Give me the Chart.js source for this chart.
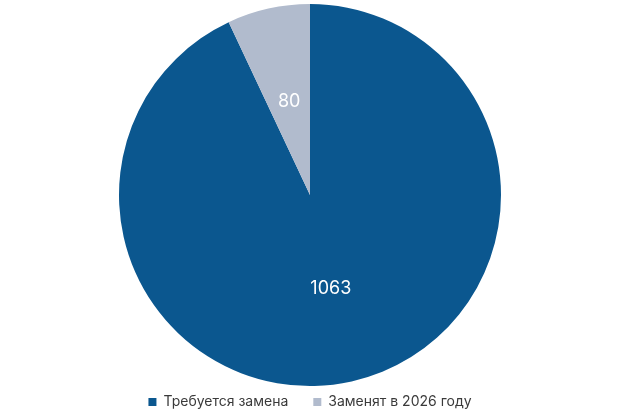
<!DOCTYPE html>
<html>
<head>
<meta charset="utf-8">
<script src="https://cdn.jsdelivr.net/npm/chart.js@4"></script>
<style>
  html, body { margin: 0; padding: 0; background: #fff; }
  #wrap { width: 620px; height: 413px; }
</style>
</head>
<body>
<div id="wrap"><canvas id="pie"></canvas></div>
<script>
const labels = ['Требуется замена', 'Заменят в 2026 году'];
const values = [1063, 80];
const colors = ['#0b578f', '#b1bbcd'];

// draw the values on the slices (no datalabels plugin here)
const sliceLabels = {
    id: 'sliceLabels',
    afterDatasetsDraw(chart) {
        const ctx = chart.ctx;
        const meta = chart.getDatasetMeta(0);
        ctx.save();
        ctx.fillStyle = '#ffffff';
        ctx.font = '18px Inter, "Open Sans", sans-serif';
        ctx.textAlign = 'center';
        ctx.textBaseline = 'middle';
        meta.data.forEach((arc, i) => {
            const p = arc.getCenterPoint();
            ctx.fillText(String(values[i]), p.x, p.y);
        });
        ctx.restore();
    }
};

// keep the wide gap between legend items but make the legend box short,
// so the pie gets almost all the height
const tightLegend = {
    id: 'tightLegend',
    afterInit(chart) {
        const legend = chart.legend;
        const origFit = legend.fit;
        legend.fit = function () {
            origFit.call(this);
            this.height = 27;
        };
        const origDraw = legend.draw;
        legend.draw = function () {
            const top = this.top;
            this.top = top - 16; // legend clips to its box, so move the box instead
            origDraw.call(this);
            this.top = top;
        };
    }
};

new Chart(document.getElementById('pie').getContext('2d'), {
    type: 'pie',
    data: {
        labels: labels,
        datasets: [{
            data: values,
            backgroundColor: colors,
            borderWidth: 0
        }]
    },
    options: {
        responsive: true,
        maintainAspectRatio: false,
        animation: false,
        layout: { padding: { top: 4, bottom: 0 } },
        plugins: {
            legend: {
                position: 'bottom',
                labels: {
                    boxWidth: 8,
                    boxHeight: 8,
                    color: '#3a3a3a',
                    padding: 25,
                    font: { family: 'Inter, "Open Sans", sans-serif', size: 14 }
                }
            },
            tooltip: { enabled: false }
        }
    },
    plugins: [tightLegend, sliceLabels]
});
</script>
</body>
</html>
